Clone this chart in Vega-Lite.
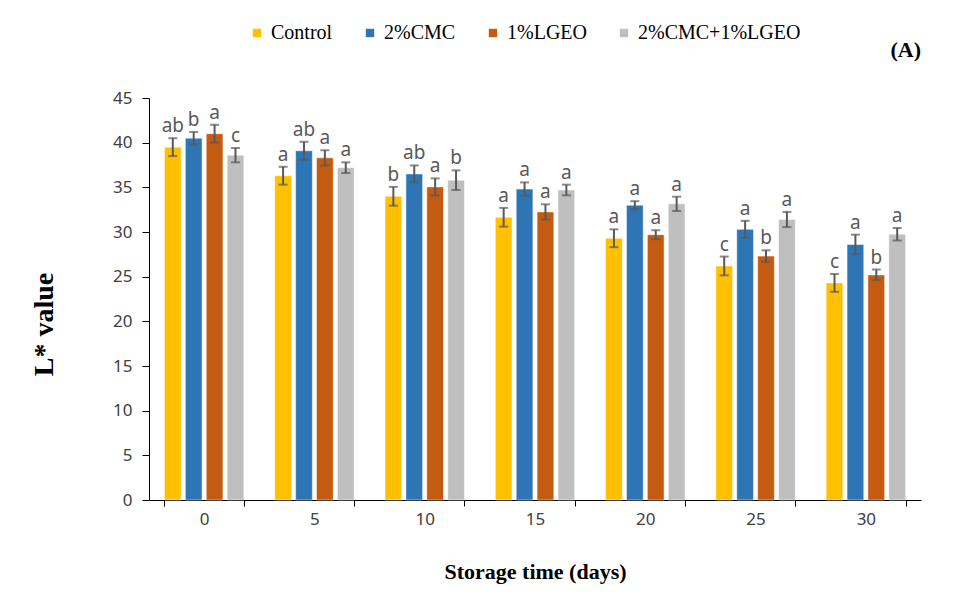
{
  "$schema": "https://vega.github.io/schema/vega-lite/v6.json",
  "width": 772,
  "height": 402,
  "autosize": {"type": "none"},
  "padding": {"left": 149, "top": 98, "right": 34, "bottom": 97},
  "background": "white",
  "title": {"text": "(A)", "anchor": "end", "orient": "top", "font": "Liberation Serif", "fontSize": 22, "fontWeight": "bold", "color": "black", "offset": 0, "dy": 39},
  "data": {"values": [
    {"day": 0, "group": "Control", "value": 39.5, "lo": 38.5, "hi": 40.5, "letter": "ab"},
    {"day": 0, "group": "2%CMC", "value": 40.5, "lo": 39.8, "hi": 41.2, "letter": "b"},
    {"day": 0, "group": "1%LGEO", "value": 41.0, "lo": 40.0, "hi": 42.0, "letter": "a"},
    {"day": 0, "group": "2%CMC+1%LGEO", "value": 38.6, "lo": 37.8, "hi": 39.4, "letter": "c"},
    {"day": 5, "group": "Control", "value": 36.3, "lo": 35.3, "hi": 37.3, "letter": "a"},
    {"day": 5, "group": "2%CMC", "value": 39.1, "lo": 38.1, "hi": 40.1, "letter": "ab"},
    {"day": 5, "group": "1%LGEO", "value": 38.3, "lo": 37.45, "hi": 39.15, "letter": "a"},
    {"day": 5, "group": "2%CMC+1%LGEO", "value": 37.2, "lo": 36.6, "hi": 37.8, "letter": "a"},
    {"day": 10, "group": "Control", "value": 34.0, "lo": 32.95, "hi": 35.05, "letter": "b"},
    {"day": 10, "group": "2%CMC", "value": 36.5, "lo": 35.55, "hi": 37.45, "letter": "ab"},
    {"day": 10, "group": "1%LGEO", "value": 35.05, "lo": 34.1, "hi": 36.0, "letter": "a"},
    {"day": 10, "group": "2%CMC+1%LGEO", "value": 35.8, "lo": 34.7, "hi": 36.9, "letter": "b"},
    {"day": 15, "group": "Control", "value": 31.65, "lo": 30.6, "hi": 32.7, "letter": "a"},
    {"day": 15, "group": "2%CMC", "value": 34.8, "lo": 34.05, "hi": 35.55, "letter": "a"},
    {"day": 15, "group": "1%LGEO", "value": 32.25, "lo": 31.4, "hi": 33.1, "letter": "a"},
    {"day": 15, "group": "2%CMC+1%LGEO", "value": 34.7, "lo": 34.1, "hi": 35.3, "letter": "a"},
    {"day": 20, "group": "Control", "value": 29.3, "lo": 28.3, "hi": 30.3, "letter": "a"},
    {"day": 20, "group": "2%CMC", "value": 33.0, "lo": 32.55, "hi": 33.45, "letter": "a"},
    {"day": 20, "group": "1%LGEO", "value": 29.7, "lo": 29.2, "hi": 30.2, "letter": "a"},
    {"day": 20, "group": "2%CMC+1%LGEO", "value": 33.15, "lo": 32.35, "hi": 33.95, "letter": "a"},
    {"day": 25, "group": "Control", "value": 26.2, "lo": 25.15, "hi": 27.25, "letter": "c"},
    {"day": 25, "group": "2%CMC", "value": 30.3, "lo": 29.35, "hi": 31.25, "letter": "a"},
    {"day": 25, "group": "1%LGEO", "value": 27.3, "lo": 26.65, "hi": 27.95, "letter": "b"},
    {"day": 25, "group": "2%CMC+1%LGEO", "value": 31.4, "lo": 30.55, "hi": 32.25, "letter": "a"},
    {"day": 30, "group": "Control", "value": 24.3, "lo": 23.3, "hi": 25.3, "letter": "c"},
    {"day": 30, "group": "2%CMC", "value": 28.6, "lo": 27.5, "hi": 29.7, "letter": "a"},
    {"day": 30, "group": "1%LGEO", "value": 25.2, "lo": 24.6, "hi": 25.8, "letter": "b"},
    {"day": 30, "group": "2%CMC+1%LGEO", "value": 29.75, "lo": 29.05, "hi": 30.45, "letter": "a"}
  ]},
  "encoding": {
    "x": {
      "field": "day", "type": "ordinal", "sort": "ascending",
      "scale": {"paddingInner": 0.28, "paddingOuter": 0.14},
      "axis": {
        "title": "Storage time (days)", "titleFont": "Liberation Serif", "titleFontSize": 22, "titleFontWeight": "bold", "titleColor": "black", "titlePadding": 34,
        "labelAngle": 0, "labelFont": "Noto Sans", "labelFontSize": 17, "labelColor": "#404040", "labelPadding": 5,
        "tickBand": "extent", "tickSize": 6, "tickColor": "black", "domainColor": "black", "grid": false
      }
    },
    "xOffset": {"field": "group", "type": "nominal", "sort": ["Control", "2%CMC", "1%LGEO", "2%CMC+1%LGEO"], "scale": {"paddingInner": 0.2, "paddingOuter": 0}}
  },
  "layer": [
    {
      "mark": {"type": "bar", "stroke": "white", "strokeWidth": 0.5},
      "encoding": {
        "y": {"field": "value", "type": "quantitative", "scale": {"domain": [0, 45]},
          "axis": {"title": "L* value", "titleFont": "Liberation Serif", "titleFontSize": 28, "titleFontWeight": "bold", "titleColor": "black", "titleX": -91, "titleY": 226,
            "values": [0, 5, 10, 15, 20, 25, 30, 35, 40, 45], "labelFont": "Noto Sans", "labelFontSize": 17, "labelColor": "#404040", "labelPadding": 10,
            "tickSize": 7, "tickColor": "black", "domainColor": "black", "grid": false}},
        "color": {"field": "group", "type": "nominal",
          "scale": {"domain": ["Control", "2%CMC", "1%LGEO", "2%CMC+1%LGEO"], "range": ["#FFC000", "#2E75B6", "#C55A11", "#BFBFBF"]},
          "legend": {"title": null, "orient": "none", "direction": "horizontal", "legendX": 98, "legendY": -75,
            "symbolType": "square", "symbolSize": 70, "symbolStrokeWidth": 0, "labelFont": "Liberation Serif", "labelFontSize": 20, "labelFontWeight": "normal", "labelColor": "black", "labelOffset": 4, "labelLimit": 400, "columnPadding": 27}}
      }
    },
    {
      "mark": {"type": "rule", "color": "#595959", "strokeWidth": 2},
      "encoding": {"y": {"field": "lo", "type": "quantitative"}, "y2": {"field": "hi"}}
    },
    {
      "mark": {"type": "tick", "color": "#595959", "thickness": 2, "size": 9, "orient": "horizontal"},
      "encoding": {"y": {"field": "lo", "type": "quantitative"}}
    },
    {
      "mark": {"type": "tick", "color": "#595959", "thickness": 2, "size": 9, "orient": "horizontal"},
      "encoding": {"y": {"field": "hi", "type": "quantitative"}}
    },
    {
      "mark": {"type": "text", "color": "#595959", "font": "Noto Sans", "fontSize": 19, "baseline": "alphabetic", "dy": -6},
      "encoding": {"y": {"field": "hi", "type": "quantitative"}, "text": {"field": "letter"}}
    }
  ],
  "config": {"view": {"stroke": null}}
}
